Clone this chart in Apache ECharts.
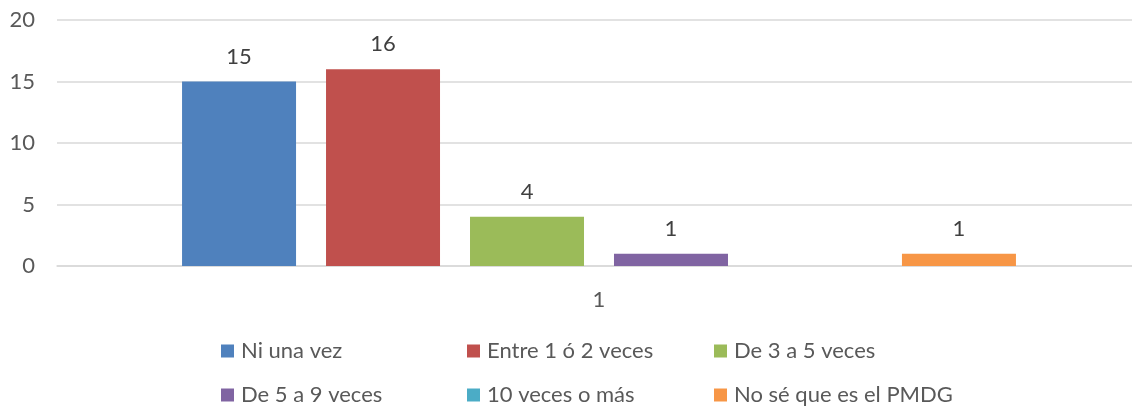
<!DOCTYPE html>
<html>
<head>
<meta charset="utf-8">
<script src="https://cdn.jsdelivr.net/npm/echarts@6/dist/echarts.min.js"></script>
<style>
  html, body { margin: 0; padding: 0; background: #fff; }
  #chart { width: 1132px; height: 408px; }
</style>
</head>
<body>
<div id="chart"></div>
<script>
var categories = ["1"];
var seriesNames = ["Ni una vez", "Entre 1 ó 2 veces", "De 3 a 5 veces", "De 5 a 9 veces", "10 veces o más", "No sé que es el PMDG"];
var seriesValues = [15, 16, 4, 1, 0, 1];
var colors = ["#4f81bd", "#c0504d", "#9bbb59", "#8064a2", "#4bacc6", "#f79646"];
var yTicks = [0, 5, 10, 15, 20];

var fontName = "Lato, 'Liberation Sans', sans-serif";

var myChart = echarts.init(document.getElementById("chart"));

// leyenda en dos filas de tres
var legendPos = [[221, 340], [467, 340], [714, 340], [221, 384], [467, 384], [714, 384]];
var legends = seriesNames.map(function (name, i) {
    return {
        data: [name],
        left: legendPos[i][0],
        top: legendPos[i][1],
        itemWidth: 13,
        itemHeight: 13,
        itemGap: 6,
        icon: "rect",
        padding: 0,
        textStyle: { color: "#595959", fontSize: 22, fontFamily: fontName, padding: [0, 0, 0, 2] }
    };
});

var series = seriesNames.map(function (name, i) {
    return {
        name: name,
        type: "bar",
        barWidth: 114,
        barGap: "26.3%",
        itemStyle: { color: colors[i] },
        label: {
            show: true,
            position: "top",
            distance: 14,
            color: "#404040",
            fontSize: 22,
            fontFamily: fontName,
            formatter: function (p) { return p.value === 0 ? "" : p.value; }
        },
        data: [seriesValues[i]]
    };
});

var option = {
    animation: false,
    textStyle: { fontFamily: fontName },
    legend: legends,
    grid: { left: 57, right: -9, top: 20, bottom: 142, outerBoundsMode: "none" },
    xAxis: {
        type: "category",
        data: categories,
        axisLine: { show: true, lineStyle: { color: "#d9d9d9", width: 1.5 } },
        axisTick: { show: false },
        axisLabel: { color: "#595959", fontSize: 22, fontFamily: fontName, margin: 23 }
    },
    yAxis: {
        type: "value",
        min: yTicks[0],
        max: yTicks[yTicks.length - 1],
        interval: 5,
        axisLine: { show: false },
        axisTick: { show: false },
        axisLabel: { color: "#595959", fontSize: 22, fontFamily: fontName, margin: 22 },
        splitLine: { lineStyle: { color: "#d9d9d9", width: 1.5 } }
    },
    series: series
};

myChart.setOption(option);
</script>
</body>
</html>
